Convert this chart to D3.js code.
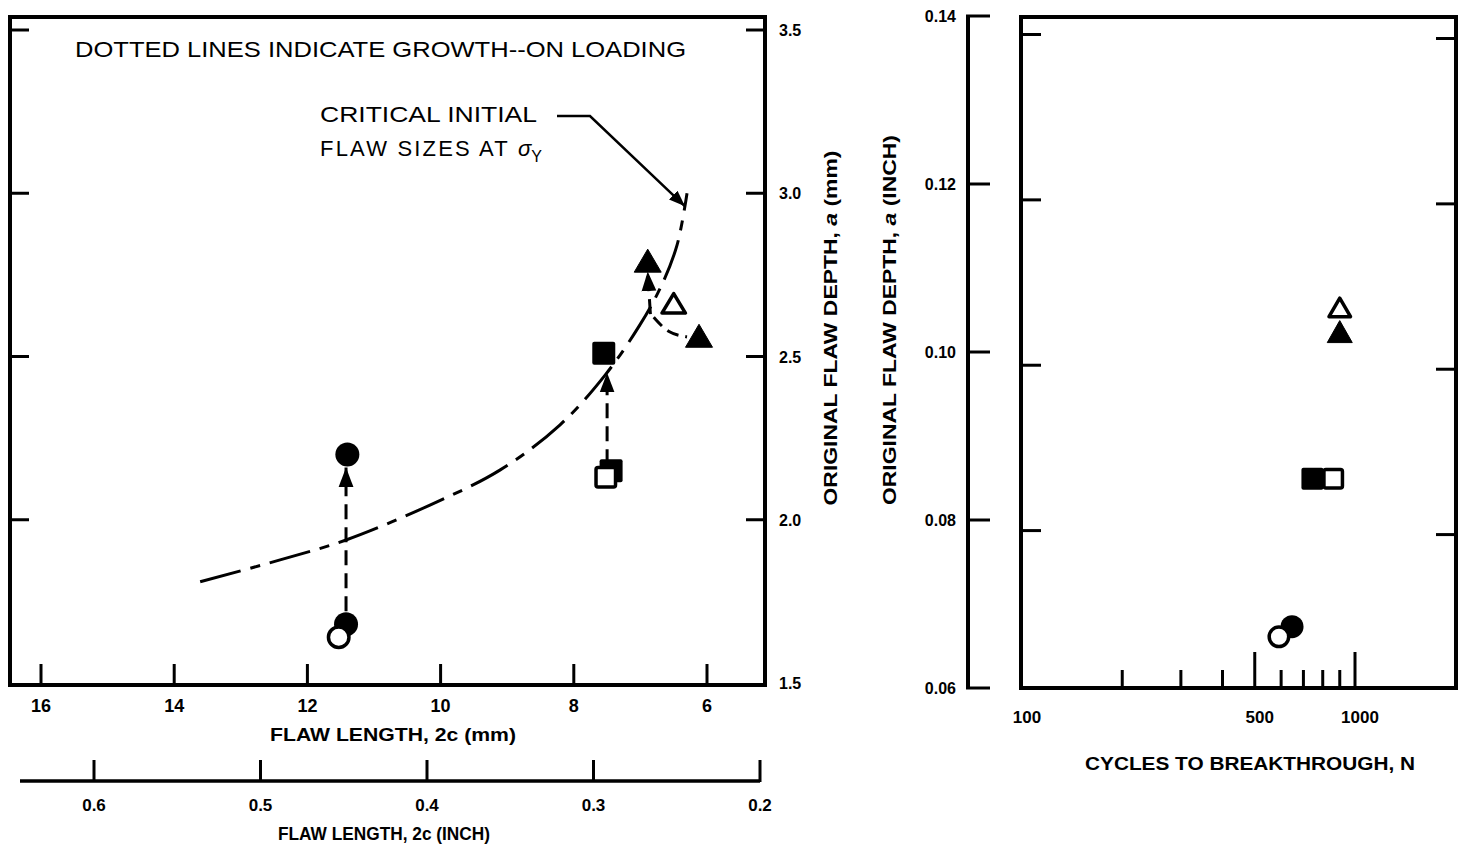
<!DOCTYPE html>
<html>
<head>
<meta charset="utf-8">
<script src="https://cdn.jsdelivr.net/npm/d3@7"></script>
<style>
  html, body { margin: 0; padding: 0; background: #fff; }
  svg { display: block; }
  text { font-family: "Liberation Sans", Arial, sans-serif; fill: #000; }
</style>
</head>
<body>
<svg id="chart" width="1461" height="847"></svg>
<script>
// ---- data ----
const lengthTicksMm = [16, 14, 12, 10, 8, 6];
const lengthTicksInch = [0.6, 0.5, 0.4, 0.3, 0.2];
const depthTicksMm = [1.5, 2.0, 2.5, 3.0, 3.5];
const frameTicksMm = [2.0, 2.5, 3.0, 3.5];
const depthTicksInch = [0.06, 0.08, 0.10, 0.12, 0.14];
const cycleLabelTicks = [100, 500, 1000];
const cycleMajorTicks = [500, 1000];
const cycleMinorTicks = [200, 300, 400, 600, 700, 800, 900];

// specimens: flaw length 2c (mm) vs original depth a (mm)
const specLength = [11.40, 11.42, 11.53, 7.55, 7.44, 7.52, 6.89, 6.50, 6.12];
const specDepth  = [2.20, 1.68, 1.64, 2.51, 2.15, 2.13, 2.79, 2.66, 2.56];
const specShape  = ["circle", "circle", "circle", "square", "square", "square", "triangle", "triangle", "triangle"];
const specFilled = [true, true, false, true, true, false, true, false, true];

// growth on loading (dashed arrows), from -> to in mm
const growFromLength = [11.42, 7.50, 6.85];
const growFromDepth  = [1.72, 2.17, 2.63];
const growToLength   = [11.42, 7.50, 6.89];
const growToDepth    = [2.16, 2.45, 2.76];
// dashed path (no arrow) joining to the right-hand triangle
const sideLength = [6.80, 6.58, 6.30];
const sideDepth  = [2.62, 2.57, 2.56];

// critical initial flaw sizes at yield stress
const critLength = [13.61, 12.41, 11.42, 10.16, 9.11, 8.21, 7.53, 7.01, 6.68, 6.45, 6.30];
const critDepth  = [1.81, 1.877, 1.938, 2.045, 2.152, 2.29, 2.443, 2.596, 2.719, 2.841, 3.00];

// cycles to breakthrough vs original depth a (inch)
const cycN      = [900, 900, 745, 860, 647, 591];
const cycDepth  = [0.1023, 0.1052, 0.0849, 0.0849, 0.0673, 0.0661];
const cycShape  = ["triangle", "triangle", "square", "square", "circle", "circle"];
const cycFilled = [true, false, true, false, true, false];

// ---- layout ----
const svg = d3.select("#chart");
const STROKE = "#000";

const xMm = d3.scaleLinear().domain([16, 6]).range([41, 707]);
const yMm = d3.scaleLinear().domain([1.5, 3.5]).range([683, 30]);
const xIn = d3.scaleLinear().domain([0.6, 0.2]).range([94, 760]);
const xN  = d3.scaleLog().domain([100, 1000]).range([1022, 1355]);
const yIn = d3.scaleLinear().domain([0.06, 0.14]).range([688, 16]);

const leftFrame = { x0: 10, x1: 765, y0: 17, y1: 685 };
const rightFrame = { x0: 1021, x1: 1456, y0: 17, y1: 688 };

function text(g, x, y, str, o = {}) {
  const t = g.append("text").attr("x", x).attr("y", y).text(str)
    .attr("font-size", o.size || 16)
    .attr("font-weight", o.weight || "normal")
    .attr("text-anchor", o.anchor || "start");
  if (o.len) t.attr("textLength", o.len).attr("lengthAdjust", o.adjust || "spacingAndGlyphs");
  return t;
}

// marker shapes
function drawMarker(g, cx, cy, shape, filled, s) {
  const sw = 3.5;
  const fill = filled ? "#000" : "#fff";
  if (shape === "circle") {
    g.append("circle").attr("cx", cx).attr("cy", cy).attr("r", s.r - (filled ? 0 : sw / 2))
      .attr("fill", fill).attr("stroke", STROKE).attr("stroke-width", filled ? 0 : sw);
  } else if (shape === "square") {
    const h = s.sq / 2 - (filled ? 0 : sw / 2);
    g.append("rect").attr("x", cx - h).attr("y", cy - h).attr("width", 2 * h).attr("height", 2 * h)
      .attr("rx", 2).attr("fill", fill).attr("stroke", STROKE).attr("stroke-width", filled ? 0 : sw)
      .attr("stroke-linejoin", "round");
  } else {
    const w = s.tw / 2 - (filled ? 0 : sw / 2), h = s.th - (filled ? 0 : sw);
    const top = cy - h * 0.55, bot = cy + h * 0.45;
    g.append("path").attr("d", `M${cx},${top}L${cx + w},${bot}L${cx - w},${bot}Z`)
      .attr("fill", fill).attr("stroke", STROKE).attr("stroke-width", filled ? 1 : sw)
      .attr("stroke-linejoin", "round");
  }
}

// arrowhead marker
const defs = svg.append("defs");
defs.append("marker").attr("id", "head").attr("viewBox", "0 0 10 10")
  .attr("refX", 10).attr("refY", 5).attr("markerWidth", 6.5).attr("markerHeight", 6.5)
  .attr("markerUnits", "strokeWidth").attr("orient", "auto")
  .append("path").attr("d", "M0,1.2L10,5L0,8.8Z").attr("fill", "#000");

// ================= left panel =================
const L = svg.append("g");

L.append("rect").attr("x", leftFrame.x0).attr("y", leftFrame.y0)
  .attr("width", leftFrame.x1 - leftFrame.x0).attr("height", leftFrame.y1 - leftFrame.y0)
  .attr("fill", "none").attr("stroke", STROKE).attr("stroke-width", 4);

// bottom ticks (inward)
L.selectAll(".bt").data(lengthTicksMm).join("line")
  .attr("x1", d => xMm(d)).attr("x2", d => xMm(d))
  .attr("y1", leftFrame.y1).attr("y2", leftFrame.y1 - 21)
  .attr("stroke", STROKE).attr("stroke-width", 3);
L.selectAll(".bl").data(lengthTicksMm).join("text")
  .attr("x", d => xMm(d)).attr("y", 712).attr("text-anchor", "middle")
  .attr("font-size", 18).attr("font-weight", "bold").text(d => d);

// side ticks (inward, both sides)
L.selectAll(".lt").data(frameTicksMm).join("line")
  .attr("x1", leftFrame.x0).attr("x2", leftFrame.x0 + 19)
  .attr("y1", d => yMm(d)).attr("y2", d => yMm(d))
  .attr("stroke", STROKE).attr("stroke-width", 3);
L.selectAll(".rt").data(frameTicksMm).join("line")
  .attr("x1", leftFrame.x1).attr("x2", leftFrame.x1 - 19)
  .attr("y1", d => yMm(d)).attr("y2", d => yMm(d))
  .attr("stroke", STROKE).attr("stroke-width", 3);
L.selectAll(".rl").data(depthTicksMm).join("text")
  .attr("x", 779).attr("y", d => yMm(d) + 6)
  .attr("font-size", 16).attr("font-weight", "bold").text(d => d.toFixed(1));

text(L, 393, 741, "FLAW LENGTH, 2c (mm)", { size: 18, weight: "bold", anchor: "middle", len: 246 });

// inch length axis
L.append("line").attr("x1", 20).attr("x2", xIn(0.2)).attr("y1", 781).attr("y2", 781)
  .attr("stroke", STROKE).attr("stroke-width", 3.5);
L.selectAll(".it").data(lengthTicksInch).join("line")
  .attr("x1", d => xIn(d)).attr("x2", d => xIn(d))
  .attr("y1", 782).attr("y2", 760)
  .attr("stroke", STROKE).attr("stroke-width", 3);
L.selectAll(".il").data(lengthTicksInch).join("text")
  .attr("x", d => xIn(d)).attr("y", 811).attr("text-anchor", "middle")
  .attr("font-size", 17).attr("font-weight", "bold").text(d => d.toFixed(1));
text(L, 384, 840, "FLAW LENGTH, 2c (INCH)", { size: 18, weight: "bold", anchor: "middle", len: 212 });

// depth axis titles (rotated)
function rotTitle(g, x, y, unit, len) {
  const t = g.append("text").attr("transform", `translate(${x},${y}) rotate(-90)`)
    .attr("text-anchor", "middle").attr("font-size", 18).attr("font-weight", "bold")
    .attr("textLength", len).attr("lengthAdjust", "spacingAndGlyphs");
  t.append("tspan").text("ORIGINAL FLAW DEPTH,  ");
  t.append("tspan").attr("font-style", "italic").text("a");
  t.append("tspan").text("  " + unit);
  return t;
}
rotTitle(L, 837, 328, "(mm)", 355);
rotTitle(L, 896, 320, "(INCH)", 370);

// note
text(L, 75, 57, "DOTTED LINES INDICATE GROWTH--ON  LOADING", { size: 22, len: 611 });

// critical curve (dash-dot)
const critLine = d3.line().x(d => xMm(d[0])).y(d => yMm(d[1])).curve(d3.curveCatmullRom);
L.append("path").attr("d", critLine(critLength.map((v, i) => [v, critDepth[i]])))
  .attr("fill", "none").attr("stroke", STROKE).attr("stroke-width", 3)
  .attr("stroke-dasharray", "42,10,10,10");

// annotation
text(L, 320, 122, "CRITICAL INITIAL", { size: 22, len: 217 });
const ann = text(L, 320, 156, "FLAW SIZES AT ", { size: 22 }).attr("letter-spacing", 2.2);
ann.append("tspan").attr("font-style", "italic").attr("letter-spacing", 0).text("σ");
ann.append("tspan").attr("font-size", 16).attr("letter-spacing", 0).attr("dy", 6).text("Y");
const tip = [xMm(6.33), yMm(2.96)];
L.append("path").attr("d", `M557,116L590,116L${tip[0]},${tip[1]}`)
  .attr("fill", "none").attr("stroke", STROKE).attr("stroke-width", 2.5)
  .attr("marker-end", "url(#head)");

// growth arrows
growFromLength.forEach((v, i) => {
  L.append("line")
    .attr("x1", xMm(v)).attr("y1", yMm(growFromDepth[i]))
    .attr("x2", xMm(growToLength[i])).attr("y2", yMm(growToDepth[i]))
    .attr("stroke", STROKE).attr("stroke-width", 3).attr("stroke-dasharray", "15,8")
    .attr("marker-end", "url(#head)");
});
const sideLine = d3.line().x(d => xMm(d[0])).y(d => yMm(d[1])).curve(d3.curveBasis);
L.append("path").attr("d", sideLine(sideLength.map((v, i) => [v, sideDepth[i]])))
  .attr("fill", "none").attr("stroke", STROKE).attr("stroke-width", 3)
  .attr("stroke-dasharray", "12,7");

// specimens
const leftSize = { r: 12, sq: 23, tw: 27, th: 23 };
specLength.forEach((v, i) => drawMarker(L, xMm(v), yMm(specDepth[i]), specShape[i], specFilled[i], leftSize));

// ================= right panel =================
const R = svg.append("g");

// inch depth axis (bracket)
R.append("line").attr("x1", 968).attr("x2", 968).attr("y1", yIn(0.06)).attr("y2", yIn(0.14))
  .attr("stroke", STROKE).attr("stroke-width", 4);
R.selectAll(".dt").data(depthTicksInch).join("line")
  .attr("x1", 966).attr("x2", 990)
  .attr("y1", d => yIn(d)).attr("y2", d => yIn(d))
  .attr("stroke", STROKE).attr("stroke-width", 3);
R.selectAll(".dl").data(depthTicksInch).join("text")
  .attr("x", 956).attr("y", d => yIn(d) + 6).attr("text-anchor", "end")
  .attr("font-size", 16).attr("font-weight", "bold").text(d => d.toFixed(2));

// plot frame
R.append("rect").attr("x", rightFrame.x0).attr("y", rightFrame.y0)
  .attr("width", rightFrame.x1 - rightFrame.x0).attr("height", rightFrame.y1 - rightFrame.y0)
  .attr("fill", "none").attr("stroke", STROKE).attr("stroke-width", 4);

// frame side ticks at mm depths
const mmToIn = d => d / 25.4;
R.selectAll(".fl").data(frameTicksMm).join("line")
  .attr("x1", rightFrame.x0).attr("x2", rightFrame.x0 + 20)
  .attr("y1", d => yIn(mmToIn(d))).attr("y2", d => yIn(mmToIn(d)))
  .attr("stroke", STROKE).attr("stroke-width", 3);
R.selectAll(".fr").data(frameTicksMm).join("line")
  .attr("x1", rightFrame.x1).attr("x2", rightFrame.x1 - 20)
  .attr("y1", d => yIn(mmToIn(d)) + 4).attr("y2", d => yIn(mmToIn(d)) + 4)
  .attr("stroke", STROKE).attr("stroke-width", 3);

// log cycle ticks
R.selectAll(".cm").data(cycleMinorTicks).join("line")
  .attr("x1", d => xN(d)).attr("x2", d => xN(d))
  .attr("y1", rightFrame.y1).attr("y2", rightFrame.y1 - 18)
  .attr("stroke", STROKE).attr("stroke-width", 3);
R.selectAll(".cM").data(cycleMajorTicks).join("line")
  .attr("x1", d => xN(d)).attr("x2", d => xN(d))
  .attr("y1", rightFrame.y1).attr("y2", rightFrame.y1 - 36)
  .attr("stroke", STROKE).attr("stroke-width", 3);
R.selectAll(".cl").data(cycleLabelTicks).join("text")
  .attr("x", d => xN(d) + 5).attr("y", 723).attr("text-anchor", "middle")
  .attr("font-size", 17).attr("font-weight", "bold").text(d => d);
text(R, 1250, 770, "CYCLES TO BREAKTHROUGH, N", { size: 18, weight: "bold", anchor: "middle", len: 330 });

const rightSize = { r: 11.5, sq: 22, tw: 25, th: 22 };
cycN.forEach((v, i) => drawMarker(R, xN(v), yIn(cycDepth[i]), cycShape[i], cycFilled[i], rightSize));
</script>
</body>
</html>
